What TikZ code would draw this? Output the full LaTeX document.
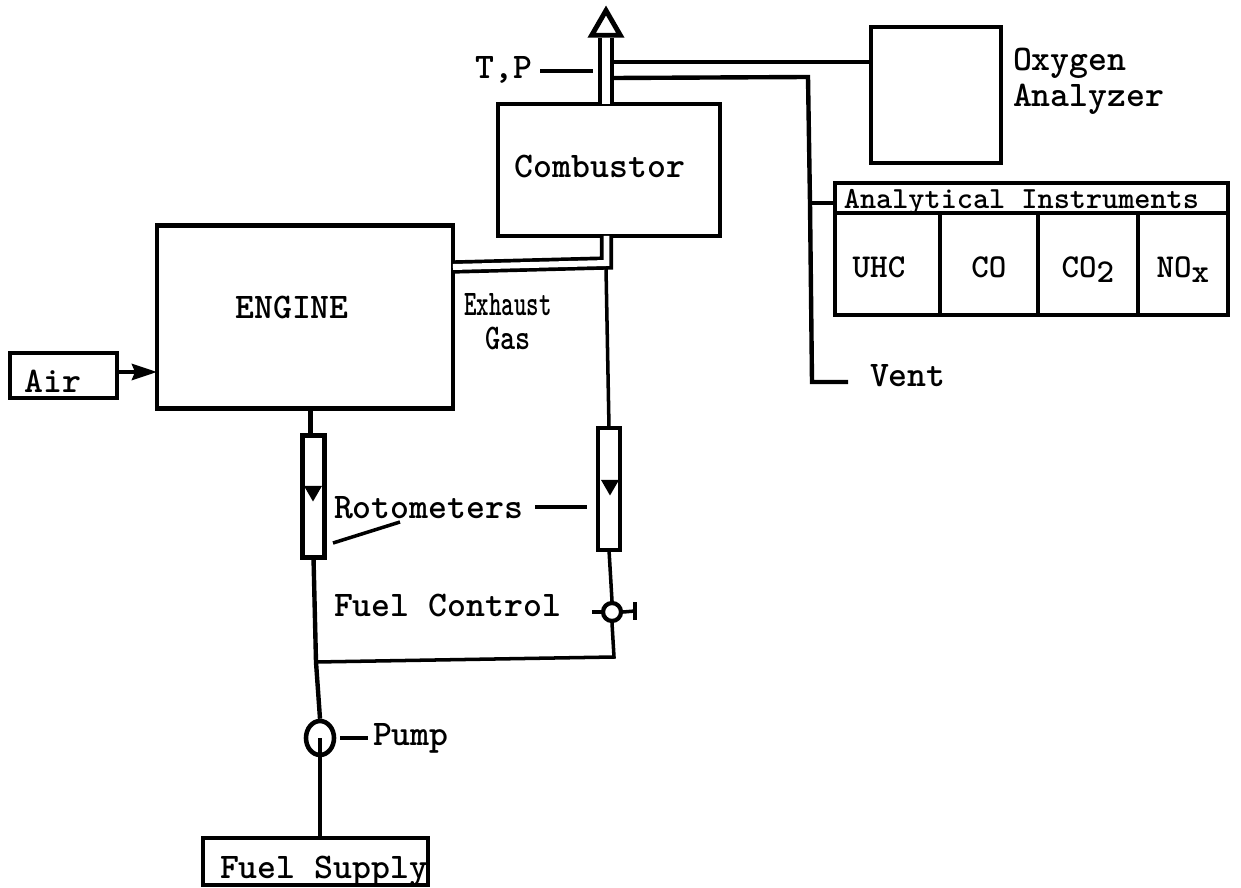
\documentclass[tikz,border=0pt]{standalone}
\usepackage{xcolor}
\usetikzlibrary{positioning, arrows.meta, shapes.geometric, calc}

\begin{document}
\begin{tikzpicture}[
        x=0.02cm, y=-0.02cm,
        font=\fontsize{20.5}{20.5}\selectfont\ttfamily\bfseries,
        line cap=butt,
        boxnode/.style={draw, line width=2.8pt, inner sep=0pt, outer sep=0pt},
        cell/.style={draw, line width=2.4pt, minimum height=2.04cm, inner sep=0pt, outer sep=0pt, font=\fontsize{19}{20}\selectfont\ttfamily\bfseries, text height=0.55cm, text depth=0pt},
        lbl/.style={inner sep=0pt, outer sep=0pt},
        lnk/.style={line width=2pt},
        thick lnk/.style={line width=2.5pt},
        pipe/.style={draw, double, line width=#1, line join=miter},
        rotometer/.style={draw, line width=2.8pt, fill=white, minimum width=0.44cm, minimum height=2.44cm, inner sep=0pt, outer sep=0pt},
        floatmark/.style={regular polygon, regular polygon sides=3, shape border rotate=180, fill=black, minimum size=0.42cm, inner sep=0pt},
    ]
    \useasboundingbox (0,0) rectangle (1241,888);

    % ---- Main boxes ----
    \node[boxnode, minimum width=5.92cm, minimum height=3.66cm] (engine) at (305,317) {};
    \node[lbl] (enginelbl) at (292,307) {ENGINE};
    \node[boxnode, minimum width=4.44cm, minimum height=2.64cm] (combustor) at (609,170) {};
    \node[lbl] (combustorlbl) at (600,166) {Combustor};
    \node[boxnode, minimum width=2.6cm, minimum height=2.72cm] (oxygen) at (936,95) {};
    \node[lbl, anchor=west, align=left] (oxygenlbl) at (1013,81) {Oxygen\\Analyzer};
    \node[boxnode, minimum width=2.14cm, minimum height=0.9cm] (air) at (63.5,375.5) {};
    \node[lbl] (airlbl) at (53,381) {Air};
    \node[boxnode, minimum width=4.5cm, minimum height=0.94cm] (fuelsupply) at (315.5,861.5) {};
    \node[lbl] (fuelsupplylbl) at (324,871) {Fuel Supply};

    % ---- Analytical Instruments ----
    \node[cell, minimum height=0.6cm, minimum width=7.86cm, anchor=north west, font=\fontsize{17.5}{20}\selectfont\ttfamily\bfseries, text height=0.42cm] (instruments) at (835,183) {Analytical Instruments\hspace{0.4cm}\null};
    \node[cell, minimum width=2.1cm, below=0pt of instruments.south west, anchor=north west] (uhc) {UHC\hspace{0.34cm}\null};
    \node[cell, minimum width=1.96cm, right=0pt of uhc] (co) {CO};
    \node[cell, minimum width=2cm, right=0pt of co] (cotwo) {CO\raisebox{-.35ex}{2}};
    \node[cell, minimum width=1.8cm, right=0pt of cotwo] (nox) {NO\raisebox{-.35ex}{x}};

    % ---- Stack and sampling lines ----
    \node[regular polygon, regular polygon sides=3, draw, line width=2.8pt, fill=white, minimum size=0.66cm, inner sep=0pt] (stackhead) at (606,27) {};
    \draw[pipe=2.4pt, double distance=4.8pt] (stackhead.south) -- (stackhead.south |- combustor.north);
    \coordinate (stackright) at (614,62);
    \coordinate (samplestart) at (614,78);
    \coordinate (samplecorner) at (808,77);
    \coordinate (samplebranch) at (810,203);
    \coordinate (ventcorner) at (812,382);
    \coordinate (ventend) at (848,382);
    \draw[thick lnk] (stackright) -- (stackright -| oxygen.west);
    \draw[thick lnk, line join=miter] (samplestart) -- (samplecorner) -- (samplebranch) -- (ventcorner) -- (ventend);
    \draw[lnk] (samplebranch) -- (samplebranch -| instruments.west);
    \node[lbl, anchor=west] (ventlbl) at (870,376) {Vent};
    \node[lbl] (tplbl) at (504,70) {T,P};
    \coordinate (tpstart) at (540,71);
    \coordinate (tpend) at (593,71);
    \draw[lnk] (tpstart) -- (tpend);

    % ---- Exhaust gas ----
    \coordinate (exhaustcorner) at (606.5,263);
    \coordinate (exhaustdrop) at (606,268);
    \draw[pipe=2.1pt, double distance=3.4pt] (engine.east |- 0,267) -- (exhaustcorner) -- (exhaustcorner |- combustor.south);
    \node[lbl] (exhaustlbl) at (508,305) {\scalebox{0.66}[1]{Exhaust}};
    \node[lbl] (gaslbl) at (508,338) {\scalebox{0.8}[1]{Gas}};

    % ---- Rotometers ----
    \node[rotometer] (rotoleft) at (313.5,496.5) {};
    \node[rotometer] (rotoright) at (609,489) {};
    \node[floatmark] (floatleft) at (313,491) {};
    \node[floatmark] (floatright) at (610,485) {};
    \node[lbl, anchor=west] (rotolbl) at (334,508) {Rotometers};
    \coordinate (rotoleftmark) at (333,543);
    \coordinate (rotolblstart) at (535,507);
    \coordinate (rotorightmark) at (587,507);
    \draw[lnk] (rotoleftmark) -- ++(67,-21);
    \draw[lnk] (rotolblstart) -- (rotorightmark);

    % ---- Fuel lines ----
    \coordinate (fueljunction) at (316,662);
    \node[circle, draw, line width=2.4pt, fill=white, minimum size=0.36cm, inner sep=0pt] (valve) at (612,612) {};
    \node[ellipse, draw, line width=2.6pt, fill=white, minimum width=0.56cm, minimum height=0.68cm, inner sep=0pt] (pump) at (320,738) {};
    \coordinate (valvecorner) at (614,657);
    \coordinate (handlebase) at (635,611);
    \coordinate (rotoleftin) at (310.5,436);
    \draw[thick lnk] (rotoleftin |- engine.south) -- (rotoleftin);
    \draw[thick lnk] (rotoleft.south) -- (fueljunction) -- (pump.north);
    \draw[lnk, line join=miter] (fueljunction) -- (valvecorner) -- (valve.south);
    \draw[lnk] (valve.north) -- (rotoright.south);
    \draw[lnk] (rotoright.north) -- (exhaustdrop);
    \draw[lnk] (valve.west) -- ++(-9,0);
    \draw[lnk] (valve.east) -- (handlebase);
    \draw[thick lnk] (handlebase) ++(0,-9) -- ++(0,18);
    \draw[thick lnk] (pump.center) -- (fuelsupply.north -| pump.center);
    \node[lbl, anchor=west] (fuelcontrollbl) at (334,605) {Fuel Control};
    \node[lbl, anchor=west] (pumplbl) at (373,738) {Pump};
    \draw[lnk] ($(pump.east)+(4,0)$) -- ($(pumplbl.west)+(-5,0)$);

    % ---- Air inlet ----
    \draw[thick lnk, -{Stealth[length=5mm, width=3.2mm, inset=0.6mm]}] (air.east |- 0,372) -- (engine.west |- 0,372);
    \end{tikzpicture}
\end{document}
